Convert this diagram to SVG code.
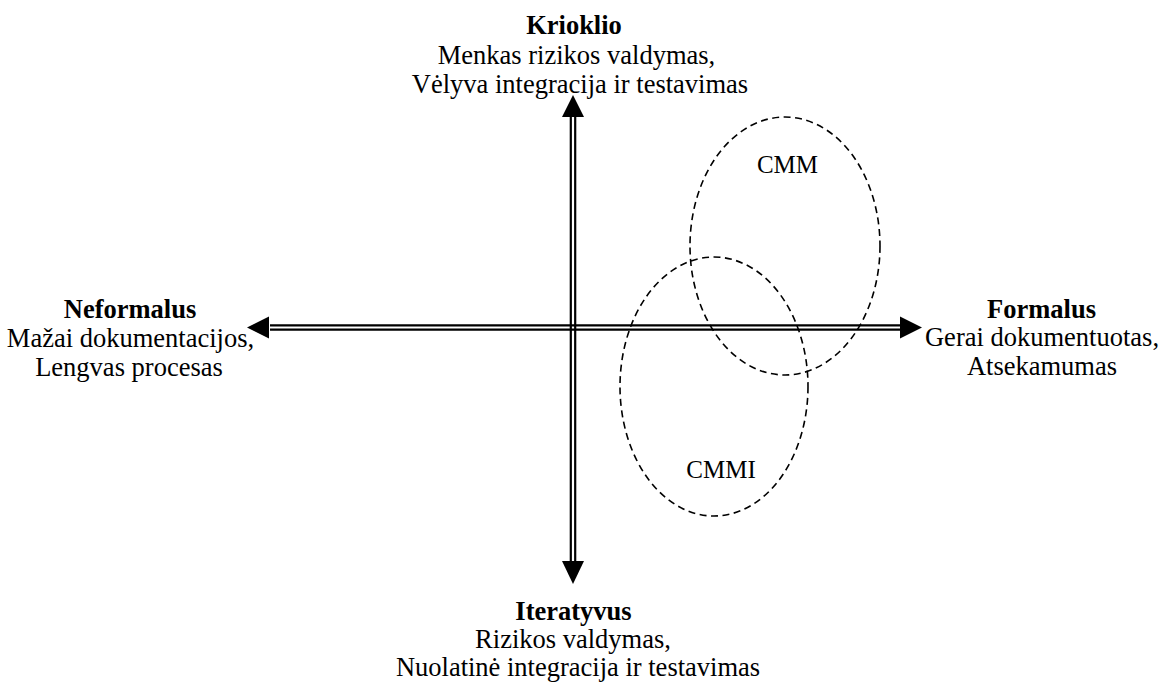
<svg xmlns="http://www.w3.org/2000/svg" width="1167" height="682" viewBox="0 0 1167 682">
  <style>
    text { font-family: "Liberation Serif", "Times New Roman", serif; font-size: 26.5px; fill: #000; text-anchor: middle; }
    .title { font-weight: bold; }
    .tag { font-size: 25px; }
    .axis { stroke: #000; stroke-width: 2.2; fill: none; }
    .head { fill: #000; stroke: none; }
    .zone { fill: none; stroke: #000; stroke-width: 1.6; stroke-dasharray: 7 4.5; }
  </style>

  <rect width="1167" height="682" fill="#fff"/>

  <!-- double-lined axes with solid arrowheads -->
  <g id="connectors">
    <line class="axis" x1="270" y1="325.3" x2="902" y2="325.3"/>
    <line class="axis" x1="270" y1="329.7" x2="902" y2="329.7"/>
    <line class="axis" x1="570.8" y1="116" x2="570.8" y2="562"/>
    <line class="axis" x1="575.2" y1="116" x2="575.2" y2="562"/>
    <polygon class="head" points="247,327.5 269,316.5 269,338.5"/>
    <polygon class="head" points="922,327.5 900,316.5 900,338.5"/>
    <polygon class="head" points="573,95 562,117 584,117"/>
    <polygon class="head" points="573,584 562,561 584,561"/>
  </g>

  <!-- maturity model regions -->
  <g id="cmm">
    <ellipse class="zone" cx="785" cy="246" rx="95" ry="129"/>
    <text class="tag" x="787.5" y="173">CMM</text>
  </g>
  <g id="cmmi">
    <ellipse class="zone" cx="714" cy="386.5" rx="94" ry="129.5"/>
    <text class="tag" x="721" y="478">CMMI</text>
  </g>

  <!-- axis end labels -->
  <g id="krioklio">
    <text class="title" x="574" y="34">Krioklio</text>
    <text x="576.5" y="64">Menkas rizikos valdymas,</text>
    <text x="580" y="93">Vėlyva integracija ir testavimas</text>
  </g>
  <g id="iteratyvus">
    <text class="title" x="573.5" y="620">Iteratyvus</text>
    <text x="573" y="648">Rizikos valdymas,</text>
    <text x="578" y="676">Nuolatinė integracija ir testavimas</text>
  </g>
  <g id="neformalus">
    <text class="title" x="130" y="318">Neformalus</text>
    <text x="130.5" y="347">Mažai dokumentacijos,</text>
    <text x="129" y="376">Lengvas procesas</text>
  </g>
  <g id="formalus">
    <text class="title" x="1041.5" y="318">Formalus</text>
    <text x="1042" y="346">Gerai dokumentuotas,</text>
    <text x="1042" y="375">Atsekamumas</text>
  </g>
</svg>
